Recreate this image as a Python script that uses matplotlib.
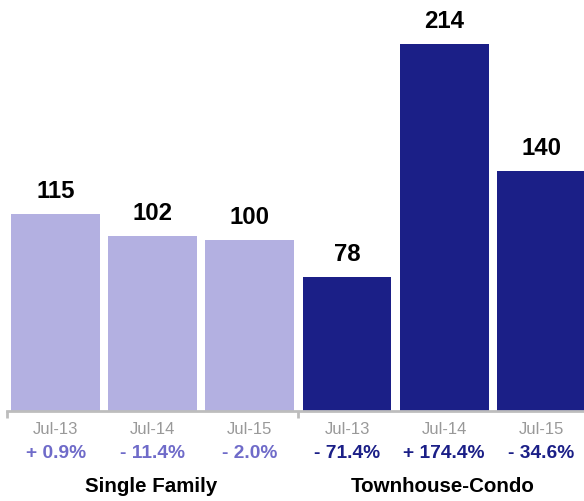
import matplotlib
matplotlib.use("Agg")
import matplotlib.pyplot as plt

plt.rcParams['font.family'] = ['Liberation Sans', 'DejaVu Sans']

groups = ["Single Family", "Townhouse-Condo"]
periods = ["Jul-13", "Jul-14", "Jul-15"]
single_family = [115, 102, 100]
townhouse_condo = [78, 214, 140]
sf_changes = ["+ 0.9%", "- 11.4%", "- 2.0%"]
tc_changes = ["- 71.4%", "+ 174.4%", "- 34.6%"]

light = "#b3b0e1"
dark = "#1b1f87"
light_txt = "#6f6bc9"
dark_txt = "#1b1f87"

W, H = 584, 501
fig = plt.figure(figsize=(W / 100, H / 100), dpi=100)
ax = fig.add_axes([7 / W, 90 / H, 577 / W, 411 / H])

values = single_family + townhouse_condo
colors = [light] * 3 + [dark] * 3
xs = list(range(6))
bars = ax.bar(xs, values, width=0.915, color=colors, zorder=2)
ax.set_xlim(-0.5, 5.44)
ax.set_ylim(0, 239.7)

for b, v in zip(bars, values):
    ax.annotate(str(v), (b.get_x() + b.get_width() / 2, v), xytext=(0, 11.5),
                textcoords="offset points", ha="center", va="baseline",
                fontsize=17.3, fontweight="bold", color="black")

for s in ["top", "right", "left"]:
    ax.spines[s].set_visible(False)
ax.spines["bottom"].set_color("#bdbdbd")
ax.spines["bottom"].set_linewidth(2)
ax.set_yticks([])
ax.set_xticks([-0.5, 2.5])
ax.set_xticklabels([])
ax.tick_params(axis="x", length=5, width=2, color="#bdbdbd", direction="out")

trans = ax.get_xaxis_transform()
changes = sf_changes + tc_changes
for i in xs:
    ax.text(i, -(429.5 - 411) / 411, periods[i % 3], transform=trans, ha="center",
            va="center", fontsize=12, color="#999999")
    ax.text(i, -(454 - 411) / 411, changes[i], transform=trans, ha="center",
            va="center", fontsize=13.8, fontweight="bold",
            color=light_txt if i < 3 else dark_txt)

fig.text(151 / W, 1 - 487 / H, groups[0], ha="center", va="center",
         fontsize=14.8, fontweight="bold", color="black")
fig.text(443 / W, 1 - 487 / H, groups[1], ha="center", va="center",
         fontsize=14.8, fontweight="bold", color="black")

fig.savefig("out.png", dpi=100)
